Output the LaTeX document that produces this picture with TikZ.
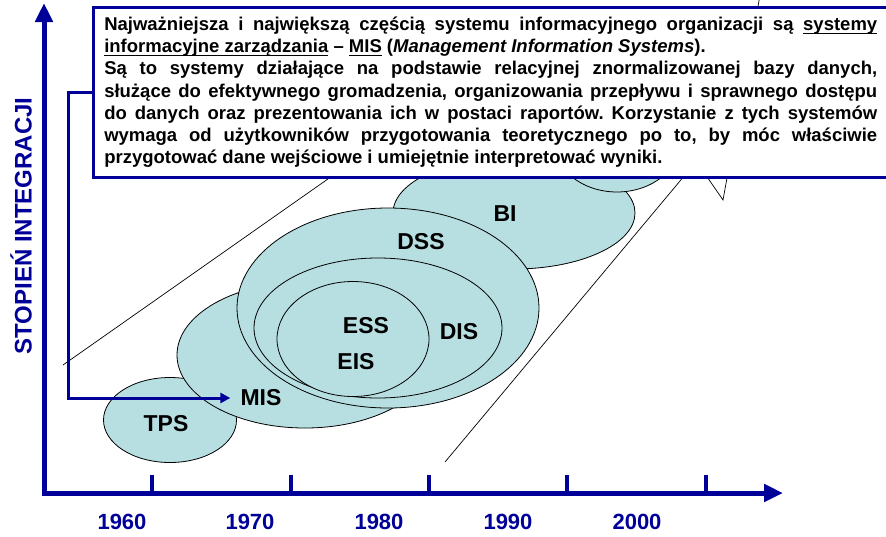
\documentclass[tikz,border=0pt]{standalone}
\usepackage{fontspec}
\setmainfont{Liberation Sans}
\usetikzlibrary{arrows.meta,shapes.geometric}
\definecolor{navy}{RGB}{0,0,153}
\definecolor{pale}{RGB}{183,223,226}
% underline drawn as a rule just below the descenders
\newcommand\myul[1]{\setbox0\hbox{#1}\rlap{\rule[-4pt]{\wd0}{1.3pt}}\box0\relax}
% one justified line of the description
\newcommand\fullline[1]{\hbox to\hsize{#1}}

\begin{document}
\begin{tikzpicture}[x=1pt,y=-1pt,
  bubble/.style={ellipse, draw=black, line width=0.8pt, fill=pale, inner sep=0pt},
  tag/.style={font=\fontsize{23}{23}\selectfont\bfseries, text=black, inner sep=1pt},
  year/.style={font=\fontsize{22}{22}\selectfont\bfseries, text=navy, inner sep=0pt},
  axis/.style={draw=navy, line width=5pt, -{Triangle[width=17pt,length=19pt]}},
  tickmark/.style={draw=navy, line width=3.5pt},
  guide/.style={draw=black, line width=0.7pt},
  link/.style={draw=navy, line width=3pt, -{Triangle[width=10pt,length=10pt]}},
  infobox/.style={draw=navy, line width=2.5pt, fill=white,
    inner xsep=11pt, inner ysep=0pt, minimum height=170pt,
    font=\fontsize{18.5}{22.3}\selectfont\bfseries}
]
\useasboundingbox (0,0) rectangle (886,536);
\fill[white] (0,0) rectangle (886,536);

% outline of the wide trend arrow in the background
\coordinate (shaftL0) at (63,365);
\coordinate (shaftL1) at (335,174);
\coordinate (shaftR0) at (445,462);
\coordinate (shaftR1) at (685,175);
\coordinate (headBack) at (703,171);
\coordinate (barb) at (723,200);
\coordinate (headTip) at (759.5,-2);
\draw[guide] (shaftL0) -- (shaftL1);
\draw[guide] (shaftR0) -- (shaftR1);
\draw[guide] (headBack) -- (barb) -- (headTip);

% system families
\node[bubble, minimum width=133pt, minimum height=85pt] (tps) at (170,420) {};
\node[bubble, minimum width=256pt, minimum height=146pt] (mis) at (305,355) {};
\node[bubble, minimum width=242pt, minimum height=112pt] (bi) at (514,213) {};
\node[bubble, minimum width=128pt, minimum height=104pt] (upper) at (617,140) {};
\node[bubble, minimum width=302pt, minimum height=200pt] (dss) at (388,308) {};
\node[bubble, minimum width=248pt, minimum height=140pt] (dis) at (378,328) {};
\node[bubble, minimum width=152pt, minimum height=115pt] (ess) at (353,339) {};

\node[tag] (tpsL) at (166,424) {TPS};
\node[tag] (misL) at (261,398) {MIS};
\node[tag] (essL) at (366,326) {ESS};
\node[tag] (eisL) at (356,362) {EIS};
\node[tag] (disL) at (459,332) {DIS};
\node[tag] (dssL) at (421,242) {DSS};
\node[tag] (biL) at (505,214) {BI};

% axes
\coordinate (yfoot) at (44,495.5);
\coordinate (ytip) at (44,3);
\coordinate (xfoot) at (41.5,493);
\coordinate (xtip) at (783,493);
\draw[axis] (yfoot) -- (ytip);
\draw[axis] (xfoot) -- (xtip);
\foreach \tx in {152,291,429,567,706}
  \draw[tickmark] (\tx,475) -- (\tx,493);

\node[year] (y1960) at (122,522) {1960};
\node[year] (y1970) at (250,522) {1970};
\node[year] (y1980) at (379,522) {1980};
\node[year] (y1990) at (508,522) {1990};
\node[year] (y2000) at (637,522) {2000};

\node[rotate=90, font=\fontsize{24}{24}\selectfont\bfseries, text=navy]
  (ylabel) at (21,226) {STOPIEŃ INTEGRACJI};

% description box
\node[infobox, anchor=north west] (info) at (92,6) {\vbox{\hsize=773pt
\frenchspacing\baselineskip=22.3pt\lineskiplimit=-20pt
\fullline{Najważniejsza i największą częścią systemu informacyjnego organizacji są \myul{systemy}}
\hbox{\myul{informacyjne zarządzania} – \myul{MIS} (\textit{Management Information Systems}).}
\fullline{Są to systemy działające na podstawie relacyjnej znormalizowanej bazy danych,}
\fullline{służące do efektywnego gromadzenia, organizowania przepływu i sprawnego dostępu}
\fullline{do danych oraz prezentowania ich w postaci raportów. Korzystanie z tych systemów}
\fullline{wymaga od użytkowników przygotowania teoretycznego po to, by móc właściwie}
\hbox{przygotować dane wejściowe i umiejętnie interpretować wyniki.}}};

\draw[link] (info.west) -- ++(-24,0) |- ([xshift=-9pt]misL.west);
\end{tikzpicture}
\end{document}
